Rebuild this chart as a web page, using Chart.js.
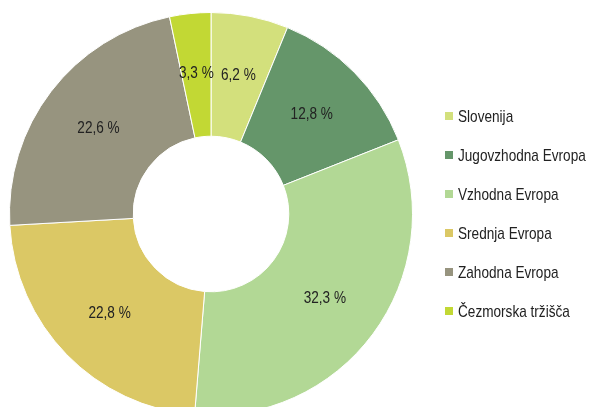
<!DOCTYPE html>
<html>
<head>
<meta charset="utf-8">
<script src="https://cdn.jsdelivr.net/npm/chart.js@4/dist/chart.umd.min.js"></script>
<style>
  html, body { margin: 0; padding: 0; background: #fff; width: 595px; height: 407px; overflow: hidden; }
  #wrap { position: relative; width: 595px; height: 407px; overflow: hidden; }
  #chart { position: absolute; left: 0; top: 0; }
  #legend { position: absolute; left: 445px; top: 106px; font-family: 'Liberation Sans', Arial, sans-serif; font-size: 17px; color: #222; }
  .leg-item { height: 39px; line-height: 22px; white-space: nowrap; }
  .leg-box { display: inline-block; width: 8px; height: 8px; margin-right: 5px; vertical-align: 2px; }
  .leg-text { display: inline-block; transform: scaleX(0.8); transform-origin: left center; }
</style>
</head>
<body>
<div id="wrap">
  <canvas id="chart" width="595" height="420"></canvas>
  <div id="legend"></div>
</div>
<script>
// market shares, clockwise from the top
const regions = ['Slovenija', 'Jugovzhodna Evropa', 'Vzhodna Evropa', 'Srednja Evropa', 'Zahodna Evropa', 'Čezmorska tržišča'];
const shares = [6.2, 12.8, 32.3, 22.8, 22.6, 3.3];
const colors = ['#d3e07c', '#65966a', '#b2d895', '#dbc865', '#97947f', '#c2d834'];

const fmt = v => v.toFixed(1).replace('.', ',') + ' %';

// value labels in the middle of each ring segment (narrowed like the original font)
const sliceLabels = {
  id: 'sliceLabels',
  afterDatasetsDraw(chart) {
    const ctx = chart.ctx;
    const meta = chart.getDatasetMeta(0);
    meta.data.forEach((arc, i) => {
      const mid = (arc.startAngle + arc.endAngle) / 2;
      const r = (arc.innerRadius + arc.outerRadius) / 2 + 2;
      ctx.save();
      ctx.translate(arc.x + Math.cos(mid) * r, arc.y + Math.sin(mid) * r);
      ctx.scale(0.8, 1);
      ctx.font = '17px "Liberation Sans", Arial, sans-serif';
      ctx.fillStyle = '#222';
      ctx.textAlign = 'center';
      ctx.textBaseline = 'middle';
      ctx.fillText(fmt(shares[i]), 0, 0);
      ctx.restore();
    });
  }
};

new Chart(document.getElementById('chart'), {
  type: 'doughnut',
  data: {
    labels: regions,
    datasets: [{
      data: shares,
      backgroundColor: colors,
      borderColor: '#ffffff',
      borderWidth: 1
    }]
  },
  options: {
    responsive: false,
    animation: false,
    cutout: '38.6%',
    layout: { padding: { left: 9, top: 12, right: 182, bottom: 4 } },
    plugins: { legend: { display: false }, tooltip: { enabled: false } }
  },
  plugins: [sliceLabels]
});

const legend = document.getElementById('legend');
regions.forEach((name, i) => {
  const row = document.createElement('div');
  row.className = 'leg-item';
  row.innerHTML = `<span class="leg-box" style="background:${colors[i]}"></span><span class="leg-text">${name}</span>`;
  legend.appendChild(row);
});
</script>
</body>
</html>
